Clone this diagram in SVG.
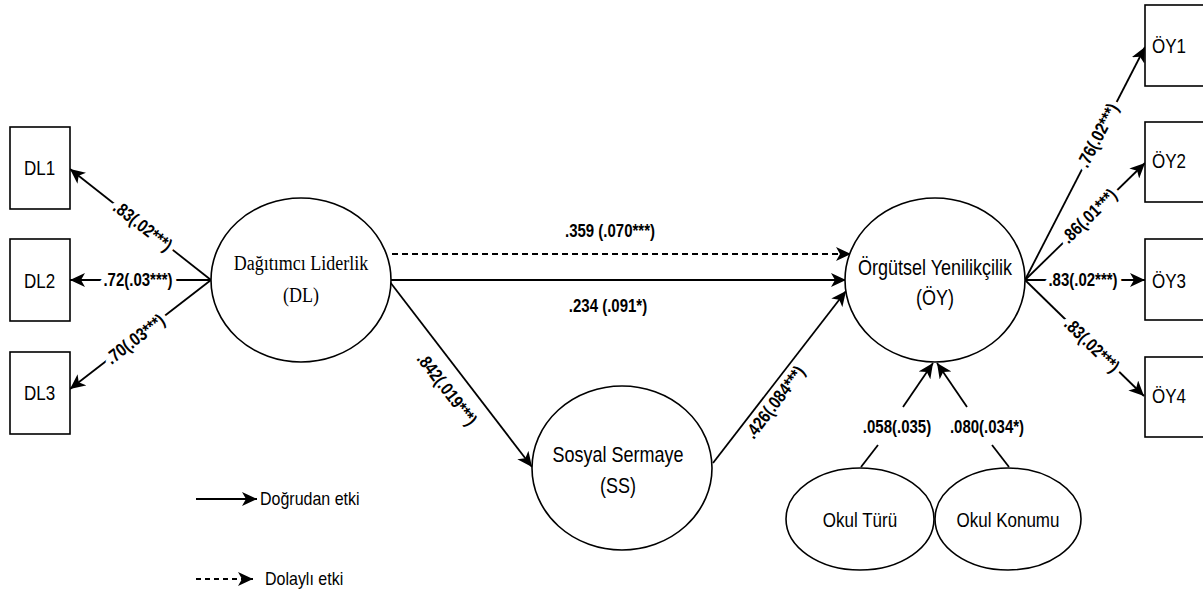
<svg xmlns="http://www.w3.org/2000/svg" width="1203" height="599" viewBox="0 0 1203 599">
<style>
.shape{fill:#fff;stroke:#000;stroke-width:1.6}
.ln{fill:none;stroke:#000;stroke-width:1.8}
.dash{stroke-dasharray:6 4}
.lbl{font-family:"Liberation Sans",Arial,sans-serif;font-size:15px;font-weight:bold;text-anchor:middle;fill:#000}
.halo{stroke:#fff;stroke-width:9;stroke-linejoin:round;paint-order:stroke}
.nt{font-family:"Liberation Sans",Arial,sans-serif;font-size:18px;text-anchor:middle;fill:#000}
.st{font-family:"Liberation Serif","Times New Roman",serif;font-size:18px;text-anchor:middle;fill:#000}
.bt{font-family:"Liberation Sans",Arial,sans-serif;font-size:17px;fill:#000}
.lg{font-family:"Liberation Sans",Arial,sans-serif;font-size:16px;fill:#000}
</style>
<defs>
<marker id="arr" markerUnits="userSpaceOnUse" markerWidth="16" markerHeight="14" refX="15" refY="7" orient="auto">
<path d="M0,0 L15,7 L0,14 L4,7 Z" fill="#000"/>
</marker>
</defs>
<rect width="1203" height="599" fill="#fff"/>

<g id="connectors">
<line class="ln" x1="211" y1="280" x2="70" y2="169" marker-end="url(#arr)"/>
<line class="ln" x1="211" y1="280" x2="70" y2="280" marker-end="url(#arr)"/>
<line class="ln" x1="211" y1="280" x2="70" y2="389" marker-end="url(#arr)"/>
<line class="ln dash" x1="392" y1="254" x2="851" y2="254" marker-end="url(#arr)"/>
<line class="ln" x1="390" y1="280" x2="846" y2="280" marker-end="url(#arr)"/>
<line class="ln" x1="390" y1="282" x2="532" y2="467" marker-end="url(#arr)"/>
<line class="ln" x1="713" y1="463" x2="846" y2="291" marker-end="url(#arr)"/>
<line class="ln" x1="1025" y1="280" x2="1145" y2="47" marker-end="url(#arr)"/>
<line class="ln" x1="1025" y1="280" x2="1145" y2="163" marker-end="url(#arr)"/>
<line class="ln" x1="1025" y1="280" x2="1145" y2="280" marker-end="url(#arr)"/>
<line class="ln" x1="1025" y1="280" x2="1144" y2="396" marker-end="url(#arr)"/>
<line class="ln" x1="861" y1="467" x2="878" y2="445"/>
<line class="ln" x1="903" y1="407" x2="933" y2="363" marker-end="url(#arr)"/>
<line class="ln" x1="1009" y1="467" x2="992" y2="445"/>
<line class="ln" x1="967" y1="407" x2="937" y2="363" marker-end="url(#arr)"/>
<line class="ln" x1="196" y1="499" x2="257" y2="499" marker-end="url(#arr)"/>
<line class="ln" x1="196" y1="579" x2="253" y2="579" stroke-dasharray="5 4" marker-end="url(#arr)"/>

<text class="lbl halo" transform="translate(142,227) rotate(38.2) scale(1,1.2)" x="0" y="4">.83(.02***)</text>
<text class="lbl halo" transform="translate(138,286) scale(1,1.2)">.72(.03***)</text>
<text class="lbl halo" transform="translate(136,340) rotate(-37.7) scale(1,1.2)" x="0" y="4">.70(.03***)</text>
<text class="lbl" transform="translate(610,237) scale(1,1.2)">.359 (.070***)</text>
<text class="lbl" transform="translate(608,312) scale(1,1.2)">.234 (.091*)</text>
<text class="lbl" transform="translate(446,390) rotate(52.5) scale(1,1.2)" x="0" y="4">.842(.019***)</text>
<text class="lbl" transform="translate(776,403) rotate(-52.7) scale(1,1.2)" x="0" y="4">.426(.084***)</text>
<text class="lbl halo" transform="translate(1099,136) rotate(-62.7) scale(1,1.2)" x="0" y="4">.76(.02***)</text>
<text class="lbl halo" transform="translate(1090,217) rotate(-44.3) scale(1,1.2)" x="0" y="4">.86(.01***)</text>
<text class="lbl halo" transform="translate(1083,286) scale(1,1.2)">.83(.02***)</text>
<text class="lbl halo" transform="translate(1091,346) rotate(44.3) scale(1,1.2)" x="0" y="4">.83(.02***)</text>
<text class="lbl" transform="translate(897,433) scale(1,1.2)">.058(.035)</text>
<text class="lbl" transform="translate(987,433) scale(1,1.2)">.080(.034*)</text>
</g>

<g id="DL1"><rect class="shape" x="10" y="127" width="60" height="82"/><text class="bt" transform="translate(24,175) scale(1,1.2)">DL1</text></g>
<g id="DL2"><rect class="shape" x="10" y="239" width="60" height="82"/><text class="bt" transform="translate(24,288) scale(1,1.2)">DL2</text></g>
<g id="DL3"><rect class="shape" x="10" y="352" width="60" height="82"/><text class="bt" transform="translate(24,400) scale(1,1.2)">DL3</text></g>

<g id="OY1"><rect class="shape" x="1145" y="5" width="70" height="81"/><text class="bt" transform="translate(1152,53) scale(1,1.2)">ÖY1</text></g>
<g id="OY2"><rect class="shape" x="1145" y="122" width="70" height="80"/><text class="bt" transform="translate(1152,168) scale(1,1.2)">ÖY2</text></g>
<g id="OY3"><rect class="shape" x="1145" y="239" width="70" height="81"/><text class="bt" transform="translate(1152,288) scale(1,1.2)">ÖY3</text></g>
<g id="OY4"><rect class="shape" x="1145" y="357" width="70" height="80"/><text class="bt" transform="translate(1152,403) scale(1,1.2)">ÖY4</text></g>

<g id="DL"><ellipse class="shape" cx="301" cy="280" rx="90" ry="82"/><text class="st" transform="translate(301,270) scale(1,1.2)">Dağıtımcı Liderlik</text><text class="st" transform="translate(301,302) scale(1,1.2)">(DL)</text></g>
<g id="OY"><ellipse class="shape" cx="935" cy="280" rx="90" ry="82"/><text class="nt" transform="translate(935,275) scale(1,1.2)">Örgütsel Yenilikçilik</text><text class="nt" transform="translate(935,305) scale(1,1.2)">(ÖY)</text></g>
<g id="SS"><ellipse class="shape" cx="622" cy="468" rx="90" ry="82"/><text class="nt" transform="translate(618,462) scale(1,1.2)">Sosyal Sermaye</text><text class="nt" transform="translate(618,493) scale(1,1.2)">(SS)</text></g>
<g id="OkulTuru"><ellipse class="shape" cx="860" cy="519" rx="74" ry="51"/><text class="nt" style="font-size:17px" transform="translate(860,527) scale(1,1.2)">Okul Türü</text></g>
<g id="OkulKonumu"><ellipse class="shape" cx="1008" cy="519" rx="73" ry="51"/><text class="nt" style="font-size:17px" transform="translate(1008,527) scale(1,1.2)">Okul Konumu</text></g>

<g id="legend">
<text class="lg" transform="translate(260,505) scale(1,1.2)">Doğrudan etki</text>
<text class="lg" transform="translate(265,585) scale(1,1.2)">Dolaylı etki</text>
</g>
</svg>
